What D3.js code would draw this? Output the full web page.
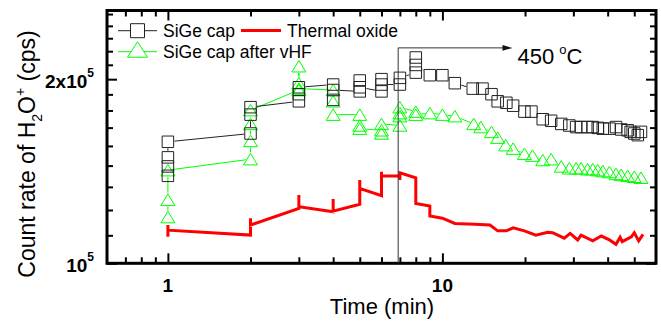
<!DOCTYPE html>
<html>
<head>
<meta charset="utf-8">
<script src="https://cdn.jsdelivr.net/npm/d3@7"></script>
<style>
  body { margin: 0; background: #fff; }
  svg text { font-family: "Liberation Sans", Arial, sans-serif; fill: #000; }
</style>
</head>
<body>
<svg id="graph" width="661" height="322"></svg>
<script>
// SiGe cap (black squares) - several readings per minute during the ramp
const sigeTime = [1, 1, 1, 1, 2, 2, 2, 3, 3, 3, 4, 4, 4, 5, 5, 5, 6, 6, 6, 7, 7, 8, 8, 8,
  9, 10, 11.1, 12.9, 14, 15.1, 15.9, 17.1, 18.1, 19.9, 21.1, 23.2, 24.9, 27.1, 29, 30.7,
  32, 33.8, 35.3, 36.8, 38.4, 40.6, 42.9, 44.8, 47.3, 48.5, 50, 51.5, 52.9];
const sigeRate = [1.39e5, 1.44e5, 1.49e5, 1.58e5, 1.63e5, 1.75e5, 1.80e5, 1.84e5, 1.89e5, 1.94e5,
  1.96e5, 1.85e5, 1.92e5, 1.91e5, 1.99e5, 1.94e5, 1.91e5, 2.00e5, 1.96e5, 1.96e5, 2.01e5,
  2.05e5, 2.17e5, 2.11e5, 2.03e5, 2.03e5, 1.97e5, 1.93e5, 1.93e5, 1.89e5, 1.84e5, 1.83e5,
  1.81e5, 1.77e5, 1.77e5, 1.72e5, 1.71e5, 1.69e5, 1.68e5, 1.67e5, 1.67e5, 1.67e5, 1.67e5,
  1.665e5, 1.66e5, 1.66e5, 1.67e5, 1.655e5, 1.65e5, 1.64e5, 1.63e5, 1.62e5, 1.64e5];

// SiGe cap after vHF (green triangles)
const vhfTime = [1, 1, 1, 2, 2, 2, 2, 3, 3, 3, 3, 4, 4, 4, 5, 5, 5, 6, 6, 6, 7, 7, 7, 7, 8, 8,
  9, 10, 11.1, 13, 13.8, 15.1, 15.9, 17, 18.1, 19.9, 21.3, 23.2, 24.9, 27.1, 29, 30.7, 32,
  33.8, 35.3, 36.8, 38.4, 40.6, 42.9, 44.8, 47.3, 50, 52.9];
const vhfRate = [1.19e5, 1.27e5, 1.42e5, 1.48e5, 1.585e5, 1.69e5, 1.78e5, 1.92e5, 1.97e5, 2.10e5,
  1.93e5, 1.92e5, 1.84e5, 1.75e5, 1.75e5, 1.68e5, 1.66e5, 1.65e5, 1.63e5, 1.69e5, 1.68e5,
  1.74e5, 1.76e5, 1.80e5, 1.77e5, 1.75e5, 1.76e5, 1.75e5, 1.74e5, 1.69e5, 1.67e5, 1.64e5,
  1.605e5, 1.56e5, 1.54e5, 1.51e5, 1.50e5, 1.475e5, 1.48e5, 1.44e5, 1.43e5, 1.43e5, 1.43e5,
  1.425e5, 1.425e5, 1.42e5, 1.415e5, 1.41e5, 1.40e5, 1.395e5, 1.39e5, 1.385e5, 1.38e5];

// Thermal oxide (red line)
const oxideTime = [1, 1, 1, 2, 2, 2, 3, 3, 3, 4, 4, 4, 5, 5, 5, 6, 6, 6, 7, 7, 7, 8, 8, 9, 9,
  10, 11.1, 13.1, 14.9, 15.9, 17.1, 18.1, 19.9, 21.9, 24.2, 25.2, 27.8, 29.2, 31.1, 32,
  35.3, 37.9, 40.6, 42.9, 44.4, 45.2, 48.8, 50, 51.9, 53.8];
const oxideRate = [1.105e5, 1.155e5, 1.133e5, 1.112e5, 1.185e5, 1.155e5, 1.23e5, 1.293e5, 1.237e5,
  1.214e5, 1.274e5, 1.217e5, 1.249e5, 1.368e5, 1.326e5, 1.29e5, 1.411e5, 1.39e5, 1.389e5,
  1.368e5, 1.406e5, 1.38e5, 1.253e5, 1.241e5, 1.195e5, 1.185e5, 1.162e5, 1.158e5, 1.155e5,
  1.13e5, 1.13e5, 1.143e5, 1.13e5, 1.112e5, 1.124e5, 1.122e5, 1.099e5, 1.119e5, 1.092e5,
  1.112e5, 1.088e5, 1.108e5, 1.092e5, 1.074e5, 1.103e5, 1.085e5, 1.105e5, 1.122e5, 1.088e5,
  1.115e5];

// axes
const xMajor = [1, 10];
const xMinor = [0.7, 0.8, 0.9, 2, 3, 4, 5, 6, 7, 8, 9, 20, 30, 40, 50];
const yMajor = [1e5, 2e5];
const yTickBase = ["10", "2x10"];
const yTickExp = ["5", "5"];
// minor ticks split each 10^5 step into nine
const yMinor = d3.range(1, 9).map((k) => 1e5 + (k * 1e5) / 9)
  .concat(d3.range(1, 6).map((k) => 2e5 + (k * 1e5) / 9));

// annotation: heating to 450 C starts here
const annealTime = 6.9;
const arrowEndTime = 18;
const arrowRate = 2.25e5;

const legendNames = ["SiGe cap", "Thermal oxide", "SiGe cap after vHF"];

const width = 661;
const height = 322;
const frame = { left: 107, right: 656, top: 10.5, bottom: 263.3 };
const black = "#222";
const green = "#00ff00";
const red = "#ff0000";

const svg = d3.select("#graph").attr("viewBox", [0, 0, width, height]);
const defs = svg.append("defs");

const x = d3.scaleLog().domain([0.6, 60]).range([frame.left, frame.right]);
const y = d3.scaleLog().domain([1e5, 2.59e5]).range([frame.bottom, frame.top]);

const squarePath = (s) => `M${-s / 2},${-s / 2}h${s}v${s}h${-s}Z`;
const trianglePath = (w, h) => `M0,${-h / 2}L${w / 2},${h / 2}L${-w / 2},${h / 2}Z`;

const toPoints = (ts, vs) => ts.map((t, i) => ({ t, v: vs[i] }));
const sige = toPoints(sigeTime, sigeRate);
const vhf = toPoints(vhfTime, vhfRate);
const oxide = toPoints(oxideTime, oxideRate);

const line = d3.line().x((d) => x(d.t)).y((d) => y(d.v));

// ticks (inward on all four sides)
function ticks(axis, values, size, transform) {
  svg.append("g")
    .attr("transform", transform)
    .call(axis.tickValues(values).tickSize(-size).tickFormat(""))
    .call((g) => g.select(".domain").remove())
    .call((g) => g.selectAll("line").attr("stroke", "#000").attr("stroke-width", 2));
}
ticks(d3.axisBottom(x), xMinor, 6, `translate(0,${frame.bottom})`);
ticks(d3.axisBottom(x), xMajor, 10, `translate(0,${frame.bottom})`);
ticks(d3.axisTop(x), xMinor, 6, `translate(0,${frame.top})`);
ticks(d3.axisTop(x), xMajor, 10, `translate(0,${frame.top})`);
ticks(d3.axisLeft(y), yMinor, 6, `translate(${frame.left},0)`);
ticks(d3.axisLeft(y), yMajor, 10, `translate(${frame.left},0)`);
ticks(d3.axisRight(y), yMinor, 6, `translate(${frame.right},0)`);
ticks(d3.axisRight(y), yMajor, 10, `translate(${frame.right},0)`);

svg.append("rect")
  .attr("x", frame.left).attr("y", frame.top)
  .attr("width", frame.right - frame.left).attr("height", frame.bottom - frame.top)
  .attr("fill", "none").attr("stroke", "#000").attr("stroke-width", 3);

// tick labels
svg.append("g")
  .selectAll("text")
  .data(xMajor)
  .join("text")
  .attr("x", (d) => x(d))
  .attr("y", frame.bottom + 28.5)
  .attr("text-anchor", "middle")
  .attr("font-size", 19)
  .attr("font-weight", "bold")
  .text((d) => d);

svg.append("g")
  .selectAll("text")
  .data(yMajor)
  .join("text")
  .attr("x", frame.left - 13)
  .attr("y", (d) => y(d) + 9)
  .attr("text-anchor", "end")
  .attr("font-size", 19)
  .attr("font-weight", "bold")
  .call((t) => t.append("tspan").text((d, i) => yTickBase[i]))
  .call((t) =>
    t.append("tspan").attr("font-size", 12).attr("dy", -11).text((d, i) => yTickExp[i])
  );

// axis titles
svg.append("text")
  .attr("x", 382)
  .attr("y", 314)
  .attr("text-anchor", "middle")
  .attr("font-size", 22)
  .text("Time (min)");

svg.append("text")
  .attr("transform", "translate(35,154) rotate(-90)")
  .attr("text-anchor", "middle")
  .attr("font-size", 23)
  .call((t) => t.append("tspan").text("Count rate of H"))
  .call((t) => t.append("tspan").attr("font-size", 14).attr("dy", 7).text("2"))
  .call((t) => t.append("tspan").attr("dy", -7).text("O"))
  .call((t) => t.append("tspan").attr("font-size", 14).attr("dy", -10).text("+"))
  .call((t) => t.append("tspan").attr("dy", 10).text(" (cps)"));

// masks so the thin connecting lines stop at the hollow symbols
function symbolMask(id, data, path) {
  const m = defs.append("mask").attr("id", id)
    .attr("maskUnits", "userSpaceOnUse")
    .attr("x", 0).attr("y", 0).attr("width", width).attr("height", height);
  m.append("rect").attr("width", width).attr("height", height).attr("fill", "white");
  m.selectAll("path")
    .data(data)
    .join("path")
    .attr("d", path)
    .attr("transform", (d) => `translate(${x(d.t)},${y(d.v)})`)
    .attr("fill", "black")
    .attr("stroke", "black")
    .attr("stroke-width", 1.5);
}
const sq = squarePath(11.5);
const tri = trianglePath(14, 11.5);
symbolMask("mask-sige", sige, sq);
symbolMask("mask-vhf", vhf, tri);

const plot = svg.append("g");

plot.append("path")
  .attr("d", line(oxide))
  .attr("fill", "none")
  .attr("stroke", red)
  .attr("stroke-width", 3);

plot.append("path")
  .attr("d", line(vhf))
  .attr("fill", "none")
  .attr("stroke", green)
  .attr("stroke-width", 1)
  .attr("mask", "url(#mask-vhf)");

plot.append("path")
  .attr("d", line(sige))
  .attr("fill", "none")
  .attr("stroke", black)
  .attr("stroke-width", 1)
  .attr("mask", "url(#mask-sige)");

plot.append("g")
  .selectAll("path")
  .data(vhf)
  .join("path")
  .attr("d", tri)
  .attr("transform", (d) => `translate(${x(d.t)},${y(d.v)})`)
  .attr("fill", "none")
  .attr("stroke", green)
  .attr("stroke-width", 1);

plot.append("g")
  .selectAll("path")
  .data(sige)
  .join("path")
  .attr("d", sq)
  .attr("transform", (d) => `translate(${x(d.t)},${y(d.v)})`)
  .attr("fill", "none")
  .attr("stroke", black)
  .attr("stroke-width", 1);

// 450 C annotation
const ax = x(annealTime);
const ay = y(arrowRate);
const ex = x(arrowEndTime);
svg.append("path")
  .attr("d", `M${ax},${frame.bottom}V${ay}H${ex - 8}`)
  .attr("fill", "none")
  .attr("stroke", "#333")
  .attr("stroke-width", 1);
svg.append("path")
  .attr("d", `M${ex},${ay}L${ex - 10},${ay - 2.8}L${ex - 10},${ay + 2.8}Z`)
  .attr("fill", "#111");
svg.append("text")
  .attr("x", ex + 5)
  .attr("y", ay + 16)
  .attr("font-size", 22)
  .call((t) => t.append("tspan").text("450"))
  .call((t) => t.append("tspan").attr("dx", 5).attr("dy", -10).attr("font-size", 13).text("o"))
  .call((t) => t.append("tspan").attr("dy", 10).text("C"));

// legend
const legend = svg.append("g").attr("font-size", 17.5);
legend.append("line").attr("x1", 118).attr("x2", 157).attr("y1", 30.7).attr("y2", 30.7)
  .attr("stroke", black).attr("stroke-width", 1);
legend.append("path").attr("d", squarePath(14)).attr("transform", "translate(137.5,30.7)")
  .attr("fill", "#fff").attr("stroke", black).attr("stroke-width", 1);
legend.append("text").attr("x", 163).attr("y", 36.5).text(legendNames[0]);

legend.append("line").attr("x1", 241).attr("x2", 281).attr("y1", 30.5).attr("y2", 30.5)
  .attr("stroke", red).attr("stroke-width", 3);
legend.append("text").attr("x", 287).attr("y", 36.5).text(legendNames[1]);

legend.append("line").attr("x1", 118).attr("x2", 157).attr("y1", 51.7).attr("y2", 51.7)
  .attr("stroke", green).attr("stroke-width", 1);
legend.append("path").attr("d", trianglePath(20, 15.5)).attr("transform", "translate(137.5,49.5)")
  .attr("fill", "#fff").attr("stroke", green).attr("stroke-width", 1);
legend.append("text").attr("x", 163).attr("y", 57.5).text(legendNames[2]);
</script>
</body>
</html>
